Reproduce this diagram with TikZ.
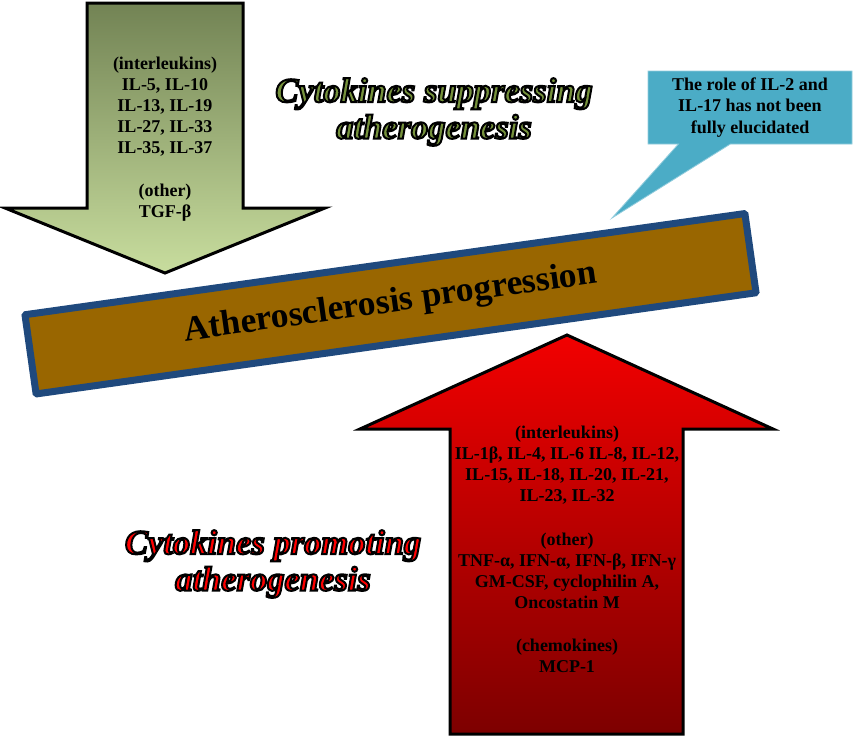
\documentclass[tikz,border=0pt]{standalone}
\usepackage{fontspec}
\setmainfont{Liberation Serif}
\usetikzlibrary{shapes.callouts}
\definecolor{olivetop}{RGB}{114,131,84}
\definecolor{greenbot}{RGB}{200,221,158}
\definecolor{redtop}{RGB}{242,0,0}
\definecolor{redbot}{RGB}{125,0,0}
\definecolor{calloutblue}{RGB}{75,172,198}
\definecolor{barbrown}{RGB}{153,102,0}
\definecolor{barblue}{RGB}{31,73,125}
\definecolor{titlegreen}{RGB}{118,146,60}
\newcommand{\outl}{\special{pdf:literal direct 2 Tr 2 w 0 0 0 RG}}
\newcommand{\unoutl}{\special{pdf:literal direct 0 Tr}}
\begin{document}
\begin{tikzpicture}[x=1pt,y=-1pt,
		arrowbox/.style={draw=black,line width=3pt,line join=miter},
		list/.style={align=center,font=\fontsize{18}{21}\selectfont\bfseries},
		title/.style={align=center,font=\fontsize{34.5}{36.5}\selectfont\bfseries\itshape},
		bar/.style={rectangle,fill=barbrown,draw=barblue,line width=7pt,rounded corners=1pt,
			minimum width=727pt,minimum height=80pt,font=\fontsize{35.5}{40}\selectfont\bfseries},
		note/.style={rectangle callout,fill=calloutblue,draw=calloutblue!60!white,line width=0.8pt,
			minimum width=204pt,minimum height=73pt,callout pointer width=52pt,
			align=center,font=\fontsize{18}{21.5}\selectfont\bfseries}]
	\useasboundingbox (0,0) rectangle (856,739);
	\fill[white] (0,0) rectangle (856,739);
	\draw[arrowbox,top color=olivetop,bottom color=greenbot]
		(87,3) -- (243,3) -- (243,208) -- (325,208) -- (165,273) -- (5,208) -- (87,208) -- cycle;
	\draw[arrowbox,top color=redtop,bottom color=redbot]
		(450,734) -- (683,734) -- (683,429) -- (773,429) -- (567,335) -- (360,429) -- (450,429) -- cycle;
	\node [list] (supp) at (165,139) {(interleukins)\\ IL-5, IL-10\\ IL-13, IL-19\\ IL-27, IL-33\\ IL-35, IL-37\\[22pt] (other)\\ TGF-β};
	\node [list] (prom) at (567,549) {(interleukins)\\ IL-1β, IL-4, IL-6 IL-8, IL-12,\\ IL-15, IL-18, IL-20, IL-21,\\ IL-23, IL-32\\[23pt]
		(other)\\ TNF-α, IFN-α, IFN-β, IFN-γ\\ GM-CSF, cyclophilin A,\\ Oncostatin M\\[22pt] (chemokines)\\ MCP-1};
	\node [bar,rotate=8] (prog) at (390.5,303.75) {Atherosclerosis progression};
	\node [note,callout absolute pointer={(612,218)}] (role) at (750,107.5) {\raisebox{-3pt}{\begin{tabular}{@{}c@{}}The role of IL-2 and\\ IL-17 has not been\\ fully elucidated\end{tabular}}};
	\node [title,text=titlegreen] (suptitle) at (434,112) {\outl Cytokines suppressing\\ atherogenesis\unoutl};
	\node [title,text=red] (promtitle) at (273,564) {\outl Cytokines promoting\\ atherogenesis\unoutl};
\end{tikzpicture}
\end{document}
